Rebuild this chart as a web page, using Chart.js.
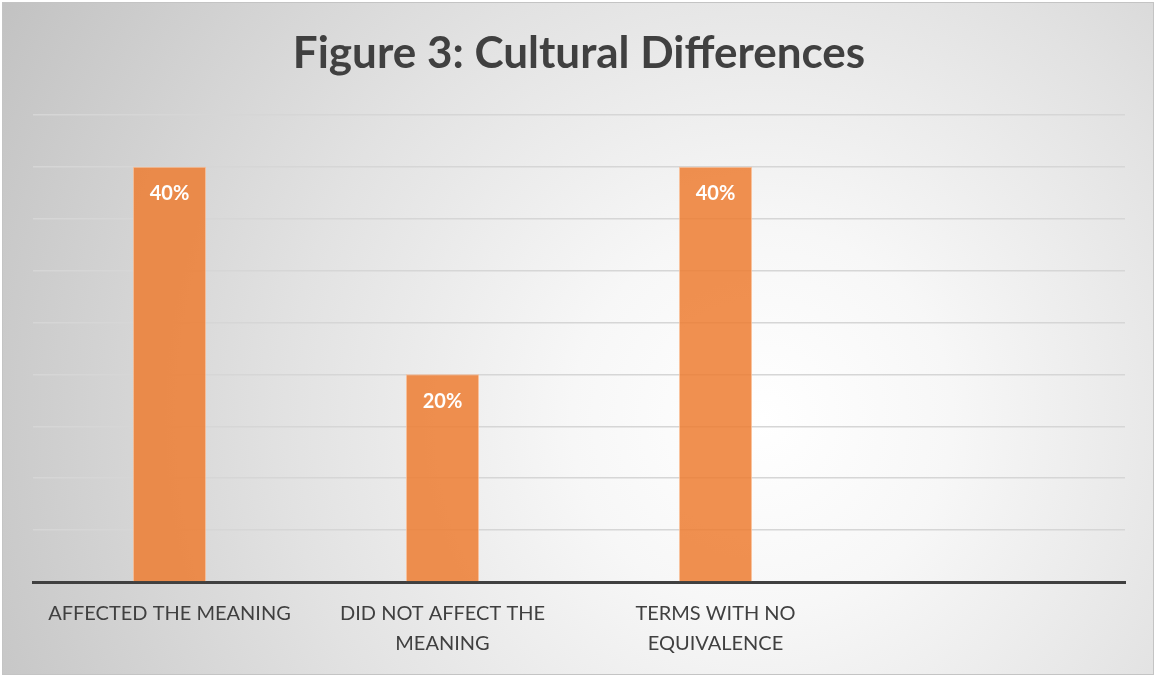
<!DOCTYPE html>
<html>
<head>
<meta charset="utf-8">
<script src="https://cdn.jsdelivr.net/npm/chart.js@4/dist/chart.umd.min.js"></script>
<style>
  body { margin: 0; background: #ffffff; }
  #box {
    position: absolute; left: 2px; top: 2px;
    width: 1150px; height: 671px;
    border: 1px solid #c4c4c4;
    background: radial-gradient(circle farthest-corner at 66% 62%, #ffffff 0%, #f7f7f7 22%, #e2e2e2 55%, #c2c2c2 100%);
  }
</style>
</head>
<body>
<div id="box"><canvas id="myChart" width="1150" height="671"></canvas></div>
<script>
// chart data
var categories = [["AFFECTED THE MEANING"], ["DID NOT AFFECT THE", "MEANING"], ["TERMS WITH NO", "EQUIVALENCE"], ""];
var values = [0.40, 0.20, 0.40, null];
var valueLabels = ["40%", "20%", "40%", ""];

var fontFamily = "Lato, 'Open Sans', sans-serif";

// write the percentage inside the top of each bar
var barLabels = {
  id: "barLabels",
  afterDatasetsDraw: function(chart) {
    var ctx = chart.ctx;
    var meta = chart.getDatasetMeta(0);
    ctx.save();
    ctx.fillStyle = "#ffffff";
    ctx.font = "bold 20px " + fontFamily;
    ctx.textAlign = "center";
    ctx.textBaseline = "middle";
    meta.data.forEach(function(bar, i) {
      if (values[i] == null) return;
      ctx.fillText(valueLabels[i], bar.x, bar.y + 27);
    });
    ctx.restore();
  }
};

new Chart(document.getElementById("myChart"), {
  type: "bar",
  data: {
    labels: categories,
    datasets: [{
      data: values,
      backgroundColor: "rgba(237,125,49,0.85)",
      borderColor: "rgba(250,190,150,0.9)",
      borderWidth: 1,
      categoryPercentage: 1,
      barPercentage: 0.268
    }]
  },
  options: {
    responsive: false,
    animation: false,
    layout: { padding: { left: 30, right: 28, top: 0, bottom: 0 } },
    plugins: {
      legend: { display: false },
      tooltip: { enabled: false },
      title: {
        display: true,
        text: "Figure 3: Cultural Differences",
        color: "#404040",
        font: { family: fontFamily, size: 44, weight: "bold", lineHeight: 1.2 },
        padding: { top: 24, bottom: 35 }
      }
    },
    scales: {
      x: {
        grid: { display: false },
        border: { color: "#404040", width: 3 },
        ticks: {
          color: "#404040",
          font: { family: fontFamily, size: 20, lineHeight: 1.5 },
          padding: 9,
          maxRotation: 0,
          autoSkip: false
        },
        afterFit: function(scale) { scale.height = 92; }
      },
      y: {
        min: 0,
        max: 0.45,
        ticks: { display: false, stepSize: 0.05 },
        grid: { color: "#d6d6d6", lineWidth: 1.5, drawTicks: false },
        border: { display: false },
        afterFit: function(scale) { scale.width = 0; }
      }
    }
  },
  plugins: [barLabels]
});
</script>
</body>
</html>
